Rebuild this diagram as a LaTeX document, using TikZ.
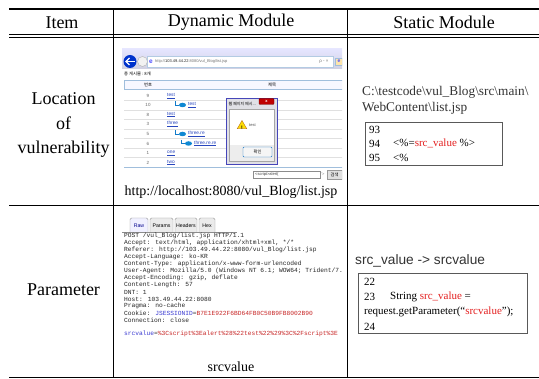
\documentclass[tikz,border=0pt]{standalone}
\usepackage{fontspec}
\setmainfont{Liberation Serif}
\newfontfamily\krfont{Noto Sans CJK KR}
\newfontfamily\burpfont{Liberation Mono}
\newfontfamily\uisans{Liberation Sans}
\usetikzlibrary{shapes.geometric}
\definecolor{codered}{RGB}{228,32,32}
\definecolor{burpblue}{RGB}{60,60,210}
\definecolor{burpred}{RGB}{200,40,40}
\definecolor{linkblue}{RGB}{40,70,190}
\definecolor{frameblue}{RGB}{160,190,220}
\begin{document}
\begin{tikzpicture}[x=1pt,y=-1pt,
  rule/.style={line width=1.2pt},
  thinrule/.style={line width=0.9pt},
  hdr/.style={font=\fontsize{18}{20}\selectfont, inner sep=0pt},
  itm/.style={font=\fontsize{18}{24.5}\selectfont, inner sep=0pt, align=center},
  captxt/.style={font=\fontsize{14}{16}\selectfont, inner sep=0pt},
  pathtxt/.style={font=\fontsize{13.3}{16}\selectfont, text=black!80, inner sep=0pt, anchor=west},
  codetxt/.style={font=\fontsize{11}{13}\selectfont, inner sep=0pt, anchor=west},
  codebox/.style={draw=black!65, line width=0.9pt},
  uitxt/.style={font=\uisans\fontsize{4.5}{5}\selectfont, inner sep=0pt},
  krtiny/.style={font=\krfont\fontsize{4.3}{5}\selectfont, inner sep=0pt},
  linktxt/.style={font=\uisans\fontsize{4.8}{5}\selectfont, text=linkblue, inner sep=0pt, anchor=west},
  burp/.style={font=\burpfont\fontsize{6.25}{7}\selectfont, text=black!85, inner sep=0pt, anchor=west},
  tabbox/.style={draw=black!40, fill=black!8, rounded corners=1.5pt, line width=0.4pt},
  tabtxt/.style={font=\uisans\fontsize{5.2}{6}\selectfont, inner sep=0pt}
]
\useasboundingbox (0,0) rectangle (539,379);
\fill[white] (0,0) rectangle (539,379);

% ---------- table rules ----------
\draw[rule] (9,9) -- (539,9);
\draw[thinrule] (9,34.5) -- (539,34.5);
\draw[thinrule] (9,37.5) -- (539,37.5);
\draw[thinrule] (9,205) -- (539,205);
\draw[rule] (9,377.6) -- (539,377.6);
\draw[thinrule] (113,9) -- (113,378);
\draw[thinrule] (347,9) -- (347,378);

% ---------- header ----------
\node[hdr] (hItem) at (62,22.5) {Item};
\node[hdr] (hDyn) at (231,22.5) {Dynamic Module};
\node[hdr] (hSta) at (444,22.5) {Static Module};

% ---------- first column ----------
\node[itm] (itemLoc) at (63.5,125) {Location\\of\\vulnerability};
\node[itm] (itemPar) at (63.5,290) {Parameter};

% ---------- browser window ----------
\begin{scope}
\clip (122,49) rectangle (342,181);
\fill[white] (122,49) rectangle (342,181);
\shade[top color=blue!10!white, bottom color=blue!22!gray!30] (122,49) rectangle (342,69);
\draw[draw=frameblue!80, fill=white] (147,56) rectangle (333,67);
\node[circle, fill=blue!75!cyan!80!black, minimum size=13pt, inner sep=0pt] (backBtn) at (130,61.5) {};
\draw[white, line width=1.2pt] (134.5,61.5) -- (126,61.5);
\draw[white, line width=1.2pt] (129.5,58) -- (126,61.5) -- (129.5,65);
\node[circle, draw=black!30, fill=black!5, minimum size=10pt, inner sep=0pt] (fwdBtn) at (142.5,61.5) {};
\node[font=\uisans\bfseries\fontsize{6.5}{7}\selectfont, text=blue!70, inner sep=0pt] (ieIcon) at (151,61.5) {e};
\node[uitxt, anchor=west, text=black!55, font=\uisans\fontsize{4}{5}\selectfont] (addr) at (155,61.5) {http://\textcolor{black!85}{103.49.44.22}:8080/vul\_Blog/list.jsp};
\node[uitxt, text=black!55] (addrTools) at (324,61.5) {ρ ‐ ×};
\node[draw=frameblue, fill=yellow!40!orange!30, minimum size=7pt, inner sep=0pt, font=\uisans\bfseries\fontsize{5}{5}\selectfont, text=blue!70] (tabIcon) at (339,61.5) {e};

\node[krtiny, anchor=west] (total) at (124,74) {총 게시물 : 8개};
\draw[frameblue, fill=blue!3] (124,80) rectangle (346,89);
\node[krtiny] (colNo) at (148,84.5) {번호};
\node[krtiny] (colTitle) at (272,84.5) {제목};

\foreach \yy in {100.5,110,119.5,129,138.5,148,157.5}
  \draw[black!12, line width=0.6pt] (124,\yy) -- (346,\yy);
\draw[frameblue, line width=0.9pt] (124,167) -- (346,167);

\foreach \yy/\num/\lvl/\ttl [count=\k] in {96/9/0/test, 105/10/1/test, 114.5/8/0/test, 124/3/0/three, 134/5/1/three.re, 143.5/6/2/three.re.re, 153/1/0/one, 162.5/2/0/two} {
  \node[uitxt, text=black!60] (rowNo\k) at (148,\yy) {\num};
  \ifnum\lvl=0
    \node[linktxt] (rowLink\k) at (167,\yy) {\underline{\ttl}};
  \else\ifnum\lvl=1
    \draw[cyan!60!blue, line width=0.5pt] (175,\yy-3.5) -- (175,\yy) -- (178.5,\yy);
    \node[ellipse, fill=cyan!70!blue, minimum width=7pt, minimum height=4.5pt, inner sep=0pt] (rowIcon\k) at (182.5,\yy) {};
    \node[linktxt] (rowLink\k) at (188,\yy) {\underline{\ttl}};
  \else
    \draw[cyan!60!blue, line width=0.5pt] (181,\yy-3.5) -- (181,\yy) -- (184.5,\yy);
    \node[ellipse, fill=cyan!70!blue, minimum width=7pt, minimum height=4.5pt, inner sep=0pt] (rowIcon\k) at (188.5,\yy) {};
    \node[linktxt] (rowLink\k) at (194,\yy) {\underline{\ttl}};
  \fi\fi
}

% alert dialog
\draw[fill=blue!12!gray!22, draw=blue!45!gray, line width=0.6pt] (226,98.5) rectangle (277,164);
\node[krtiny, anchor=west, font=\krfont\fontsize{4}{5}\selectfont] (dlgTitle) at (228.5,104) {웹 페이지 메시...};
\node[draw=red!45!black, fill=red!75!black, rounded corners=1pt, minimum width=15pt, minimum height=6pt, inner sep=0pt, text=white, font=\uisans\bfseries\fontsize{4}{4}\selectfont] (dlgClose) at (266.5,101.5) {x};
\fill[white] (229,109) rectangle (274,145);
\fill[black!7] (229,145) rectangle (274,161);
\draw[black!35, line width=0.4pt] (229,109) rectangle (274,161);
\node[regular polygon, regular polygon sides=3, fill=yellow!80!orange, draw=orange!70!black, line width=0.3pt, minimum size=11pt, inner sep=0pt] (warnIcon) at (242,126) {};
\node[font=\uisans\bfseries\fontsize{5}{5}\selectfont, inner sep=0pt] (warnMark) at (242,127.3) {!};
\node[uitxt, anchor=west, text=black!70, font=\uisans\fontsize{4}{5}\selectfont] (dlgMsg) at (249,125.5) {test};
\node[draw=cyan!55!blue, fill=black!4, rounded corners=1pt, minimum width=29pt, minimum height=10pt, inner sep=0pt, font=\krfont\fontsize{4.3}{5}\selectfont] (dlgOk) at (257.5,152) {확인};

% search box
\node[draw=black!45, fill=white, minimum width=67pt, minimum height=7pt, inner sep=0pt] (searchBox) at (286.5,174.5) {};
\node[uitxt, anchor=west, text=black!75, font=\uisans\fontsize{4}{5}\selectfont] (searchTxt) at (255,174.5) {<script>alert(};
\node[uitxt, text=black!50, font=\uisans\fontsize{4}{5}\selectfont] (searchArrow) at (323,174) {'>};
\node[draw=black!40, fill=black!12, minimum width=15pt, minimum height=9pt, inner sep=0pt, font=\krfont\fontsize{4.3}{5}\selectfont] (searchBtn) at (334.5,174.5) {검색};
\end{scope}

\node[captxt] (urlCap) at (231,192) {http://localhost:8080/vul\_Blog/list.jsp};

% ---------- Burp request ----------
\draw[black!45, line width=0.5pt] (122,232) -- (237,232);
\draw[tabbox, fill=blue!6] (130,232) -- (130,218) -- (148,218) -- (148,232);
\draw[tabbox] (150,232) -- (150,218) -- (173,218) -- (173,232);
\draw[tabbox] (175,232) -- (175,218) -- (197,218) -- (197,232);
\draw[tabbox] (199,232) -- (199,218) -- (215,218) -- (215,232);
\node[tabtxt, text=blue!55!black] (tabRaw) at (139,225.5) {Raw};
\node[tabtxt] (tabParams) at (161.5,225.5) {Params};
\node[tabtxt] (tabHeaders) at (186,225.5) {Headers};
\node[tabtxt] (tabHex) at (207,225.5) {Hex};

\begin{scope}
\clip (120,230) rectangle (342,345);
\node[burp] (req1) at (124,236) {POST /vul\_Blog/list.jsp HTTP/1.1};
\node[burp] (req2) at (124,243) {Accept: text/html, application/xhtml+xml, */*};
\node[burp] (req3) at (124,250) {Referer: http://103.49.44.22:8080/vul\_Blog/list.jsp};
\node[burp] (req4) at (124,257) {Accept-Language: ko-KR};
\node[burp] (req5) at (124,264) {Content-Type: application/x-www-form-urlencoded};
\node[burp] (req6) at (124,271) {User-Agent: Mozilla/5.0 (Windows NT 6.1; WOW64; Trident/7.0};
\node[burp] (req7) at (124,278) {Accept-Encoding: gzip, deflate};
\node[burp] (req8) at (124,285) {Content-Length: 57};
\node[burp] (req9) at (124,292) {DNT: 1};
\node[burp] (req10) at (124,299) {Host: 103.49.44.22:8080};
\node[burp] (req11) at (124,306) {Pragma: no-cache};
\node[burp] (req12) at (124,313) {Cookie: \textcolor{burpblue}{JSESSIONID}=\textcolor{burpred}{B7E1E922F6BD64FB0C50B9FB8002B90}};
\node[burp] (req13) at (124,320) {Connection: close};
\node[burp] (req15) at (124,334) {\textcolor{burpblue}{srcvalue}=\textcolor{burpred}{\%3Cscript\%3Ealert\%28\%22test\%22\%29\%3C\%2Fscript\%3E}};
\end{scope}

\node[captxt] (paramCap) at (231,367) {srcvalue};

% ---------- static module: location ----------
\node[pathtxt] (path1) at (362,92) {C:\textbackslash testcode\textbackslash vul\_Blog\textbackslash src\textbackslash main\textbackslash};
\node[pathtxt] (path2) at (362,108.5) {WebContent\textbackslash list.jsp};
\draw[codebox] (365,122) rectangle (502,165);
\node[codetxt] (ln93) at (369,130) {93};
\node[codetxt] (ln94) at (369,143.5) {94};
\node[codetxt] (ln94c) at (393,143.5) {<\%=\textcolor{codered}{src\_value} \%>};
\node[codetxt] (ln95) at (369,157.5) {95};
\node[codetxt] (ln95c) at (393,157.5) {<\%};

% ---------- static module: parameter ----------
\node[font=\uisans\fontsize{13.7}{16}\selectfont, text=black!80, inner sep=0pt, anchor=west] (mapTxt) at (355,261) {src\_value -> srcvalue};
\draw[codebox] (358,273) rectangle (527,333);
\node[codetxt] (ln22) at (364,282) {22};
\node[codetxt] (ln23) at (364,297) {23};
\node[codetxt] (ln23c) at (390,297) {String \textcolor{codered}{src\_value} =};
\node[codetxt] (ln23d) at (364,312) {request.getParameter(“\textcolor{codered}{srcvalue}”);};
\node[codetxt] (ln24) at (364,327) {24};
\end{tikzpicture}
\end{document}
